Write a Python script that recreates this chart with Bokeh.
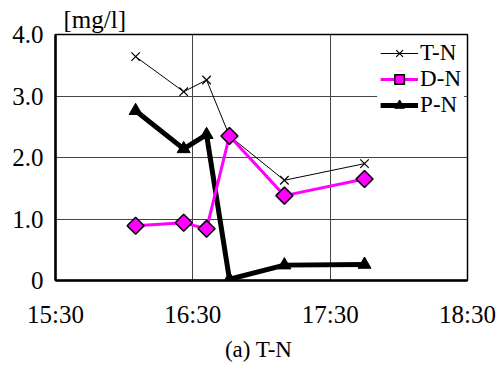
from bokeh.plotting import figure
from bokeh.models import (Range1d, FixedTicker, Legend, LegendItem)
from bokeh.embed import file_html
from bokeh.resources import INLINE
import math

# ---- data ----
times = ["16:05", "16:26", "16:36", "16:46", "17:10", "17:45"]
tn = [3.64, 3.07, 3.26, 2.35, 1.63, 1.90]
dn = [0.89, 0.94, 0.84, 2.35, 1.38, 1.65]
pn = [2.76, 2.14, 2.37, 0.02, 0.25, 0.26]
x_ticks = ["15:30", "16:30", "17:30", "18:30"]
y_ticks = [0, 1.0, 2.0, 3.0, 4.0]
y_tick_labels = ["0", "1.0", "2.0", "3.0", "4.0"]
series_names = ["T-N", "D-N", "P-N"]
unit_label = "[mg/l]"
caption = "(a)  T-N"


def to_min(s):
    h, m = s.split(":")
    return int(h) * 60 + int(m)


xs = [to_min(t) for t in times]
xt = [to_min(t) for t in x_ticks]

FONT = "Liberation Serif"

p = figure(width=500, height=369, output_backend="svg", toolbar_location=None,
           x_range=Range1d(xt[0], xt[-1]), y_range=Range1d(0, 4.0),
           min_border_left=55, min_border_right=33, min_border_top=34,
           min_border_bottom=89)
p.background_fill_color = "white"
p.border_fill_color = "white"
p.outline_line_color = "black"
p.outline_line_width = 1.5

# unit text above the plot (figure title)
p.title.text = unit_label
p.title.align = "left"
p.title.offset = 8
p.title.standoff = 3
p.title.text_font = FONT
p.title.text_font_size = "25px"
p.title.text_font_style = "normal"
p.title.text_color = "black"

p.xaxis.ticker = FixedTicker(ticks=xt)
p.xaxis.major_label_overrides = {v: s for v, s in zip(xt, x_ticks)}
p.yaxis.ticker = FixedTicker(ticks=y_ticks)
p.yaxis.major_label_overrides = {v: s for v, s in zip(y_ticks, y_tick_labels)}
for ax in (p.xaxis[0], p.yaxis[0]):
    ax.axis_line_color = "black"
    ax.axis_line_width = 2.5
    ax.major_tick_out = 0
    ax.major_tick_in = 0
    ax.minor_tick_out = 0
    ax.minor_tick_in = 0
    ax.major_label_text_font = FONT
    ax.major_label_text_font_size = "25px"
    ax.major_label_text_color = "black"
p.xaxis.major_label_standoff = 20
p.yaxis.major_label_standoff = 12

# caption as the time axis label
p.xaxis.axis_label = caption
p.xaxis.axis_label_text_font = FONT
p.xaxis.axis_label_text_font_size = "23px"
p.xaxis.axis_label_text_font_style = "normal"
p.xaxis.axis_label_text_color = "black"
p.xaxis.axis_label_standoff = 6

p.xgrid.grid_line_color = "#444444"
p.ygrid.grid_line_color = "#444444"
p.xgrid.grid_line_width = 1
p.ygrid.grid_line_width = 1

# T-N
l1 = p.line(xs, tn, line_color="black", line_width=1)
m1 = p.scatter(xs, tn, marker="x", size=12, line_color="black", line_width=1.2)
# P-N
l3 = p.line(xs, pn, line_color="black", line_width=5)
m3 = p.scatter(xs, pn, marker="triangle", size=13, fill_color="black", line_color="black")
# D-N
l2 = p.line(xs, dn, line_color="#FF00FF", line_width=3)
m2 = p.scatter(xs, dn, marker="square", size=12, angle=math.pi / 4,
               fill_color="#FF00FF", line_color="black", line_width=1.5)

items = [LegendItem(label=series_names[0], renderers=[l1, m1]),
         LegendItem(label=series_names[1], renderers=[l2, m2]),
         LegendItem(label=series_names[2], renderers=[l3, m3])]
lg = Legend(items=items, location="top_right",
            orientation="vertical", padding=3, margin=3,
            glyph_width=38, glyph_height=24, label_height=24,
            label_standoff=2, spacing=0,
            label_text_font=FONT, label_text_font_size="23px",
            label_text_color="black",
            background_fill_color="white", background_fill_alpha=1,
            border_line_alpha=0)
p.add_layout(lg)

open("out.html", "w").write(file_html(p, INLINE))
